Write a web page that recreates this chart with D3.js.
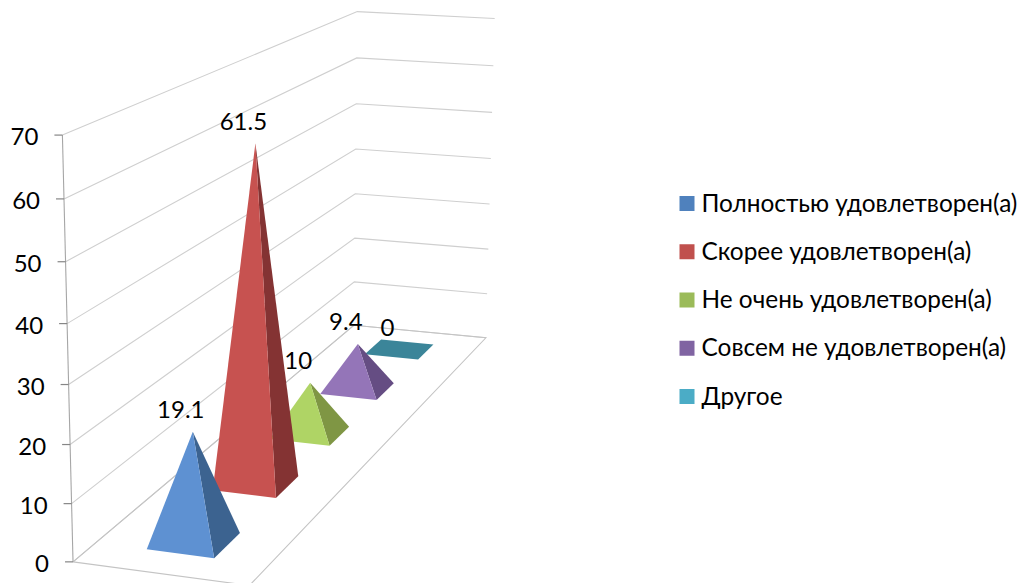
<!DOCTYPE html>
<html><head><meta charset="utf-8">
<script src="https://cdn.jsdelivr.net/npm/d3@7/dist/d3.min.js"></script>
<style>html,body{margin:0;padding:0;background:#fff;overflow:hidden}svg{display:block}text{font-family:Lato,"Open Sans","Noto Sans",sans-serif;fill:#000}</style>
</head><body><svg id="c" width="1023" height="583"></svg>
<script>
const categories = ["Полностью удовлетворен(а)","Скорее удовлетворен(а)","Не очень удовлетворен(а)","Совсем не удовлетворен(а)","Другое"];
const values = [19.1,61.5,10,9.4,0];
const valueLabels = ["19.1","61.5","10","9.4","0"];
const tickValues = [0,10,20,30,40,50,60,70];
const frontColors = ["#5E91D2","#C75250","#AFD465","#9475B8","#3B8599"];
const sideColors = ["#3C6390","#843333","#7F9644","#654D83","#3B8599"];
const legendColors = ["#4F81BD","#C0504D","#9BBB59","#8064A2","#4BACC6"];

// camera calibration: [across, value, depth] -> screen
const anchors = [
 [0,0,0,72,561],[0,70,0,62.5,136],[0,30,0,68,384],
 [0,0,1,354.5,326],[0,70,1,357,12],[0,30,1,356,193],
 [1,0,1,485,338],[1,70,1,495,18],[1,30,1,489,204],
 [1,0,0,251,586]];

const yWorld = d3.scaleLinear().domain([0,70]).range([0,1]);
const depth = d3.scaleBand().domain(categories).range([0,1]).paddingInner(0.6).paddingOuter(0.3);
const across = d3.scaleLinear().domain([0,1]).range([0.30,0.69]);

function solve(A,b){const n=b.length;const M=A.map((r,i)=>[...r,b[i]]);
 for(let i=0;i<n;i++){let p=i;for(let r=i+1;r<n;r++)if(Math.abs(M[r][i])>Math.abs(M[p][i]))p=r;[M[i],M[p]]=[M[p],M[i]];
  for(let r=0;r<n;r++)if(r!==i){const f=M[r][i]/M[i][i];for(let c=i;c<=n;c++)M[r][c]-=f*M[i][c];}}
 return M.map((r,i)=>r[n]/r[i]);}
const rows=[],rhs=[];
anchors.forEach(([X,v,Z,u,w])=>{const Y=yWorld(v),U=u/1000,W=w/1000;
 rows.push([X,Y,Z,1,0,0,0,0,-U*X,-U*Y,-U*Z]);rhs.push(U);
 rows.push([0,0,0,0,X,Y,Z,1,-W*X,-W*Y,-W*Z]);rhs.push(W);});
const ATA=d3.range(11).map(i=>d3.range(11).map(j=>d3.sum(rows,r=>r[i]*r[j])));
const ATb=d3.range(11).map(i=>d3.sum(rows,(r,k)=>r[i]*rhs[k]));
const P=solve(ATA,ATb);
function proj(X,v,Z){const Y=yWorld(v),d=P[8]*X+P[9]*Y+P[10]*Z+1;
 return [1000*(P[0]*X+P[1]*Y+P[2]*Z+P[3])/d,1000*(P[4]*X+P[5]*Y+P[6]*Z+P[7])/d];}

const svg=d3.select("#c"),line=d3.line();
// gridlines
svg.append("g").selectAll("path").data(tickValues).join("path")
 .attr("d",v=>line([proj(0,v,0),proj(0,v,1),proj(1,v,1)]))
 .attr("fill","none").attr("stroke",v=>"#cfcfcf").attr("stroke-width",1.1);
// floor
svg.append("path").attr("d",line([proj(0,0,0),proj(0,0,1),proj(1,0,1),proj(1,0,0),proj(0,0,0)]))
 .attr("fill","none").attr("stroke","#c4c4c4").attr("stroke-width",1.1);
// value axis
svg.append("path").attr("d",line([proj(0,0,0),proj(0,70,0)])).attr("fill","none").attr("stroke","#a6a6a6").attr("stroke-width",1.1);
const tick=svg.append("g").selectAll("g").data(tickValues).join("g");
tick.append("line").attr("x1",v=>proj(0,v,0)[0]-8).attr("x2",v=>proj(0,v,0)[0]).attr("y1",v=>proj(0,v,0)[1]).attr("y2",v=>proj(0,v,0)[1]).attr("stroke","#868686").attr("stroke-width",1.2);
tick.append("text").attr("x",v=>proj(0,v,0)[0]-24).attr("y",v=>proj(0,v,0)[1]+2).attr("dy","0.35em").attr("text-anchor","end").attr("font-size",24).text(v=>v);
// pyramids, back to front
const order=d3.range(categories.length).reverse();
const bars=svg.append("g").selectAll("g").data(order).join("g");
function corners(i){const z0=depth(categories[i]),z1=z0+depth.bandwidth(),x0=across(0),x1=across(1);
 return {fl:proj(x0,0,z0),fr:proj(x1,0,z0),br:proj(x1,0,z1),bl:proj(x0,0,z1),top:proj((x0+x1)/2,values[i],(z0+z1)/2)};}
bars.each(function(i){const c=corners(i),g=d3.select(this);
 if(values[i]===0){g.append("path").attr("d",line([c.fl,c.fr,c.br,c.bl])+"Z").attr("fill",frontColors[i]);return;}
 g.append("path").attr("d",line([c.fr,c.br,c.top])+"Z").attr("fill",sideColors[i]);
 g.append("path").attr("d",line([c.fl,c.fr,c.top])+"Z").attr("fill",frontColors[i]);
});
// data labels
svg.append("g").selectAll("text").data(order).join("text")
 .attr("x",i=>corners(i).top[0]-12).attr("y",i=>corners(i).top[1]-22).attr("dy","0.35em").attr("text-anchor","middle").attr("font-size",24).text(i=>valueLabels[i]);
// legend
const legendY=d3.scalePoint().domain(categories).range([203.5,396.5]);
const leg=svg.append("g").selectAll("g").data(categories).join("g");
leg.append("rect").attr("x",679.5).attr("y",c=>legendY(c)-7.5).attr("width",15).attr("height",15).attr("fill",(c,i)=>legendColors[i]);
leg.append("text").attr("x",701.5).attr("y",c=>legendY(c)+8).attr("font-size",24.4).text(c=>c);
</script></body></html>
